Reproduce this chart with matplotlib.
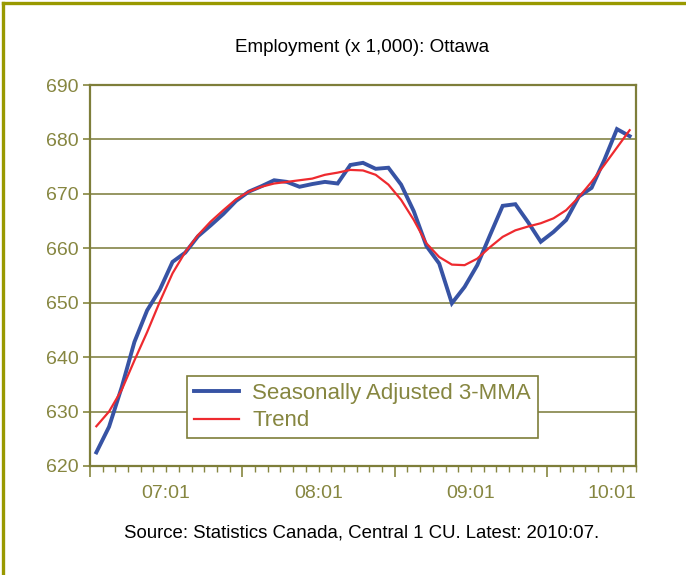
import numpy as np
import matplotlib
matplotlib.use("Agg")
import matplotlib.pyplot as plt
from matplotlib.lines import Line2D

plt.rcParams['font.family'] = ['Liberation Sans', 'DejaVu Sans']

# ---- data -------------------------------------------------------------
years = ['07', '08', '09', '10']
months_per_year = [12, 12, 12, 7]          # 2007:01 .. 2010:07
months = [f"{y}:{m:02d}" for y, n in zip(years, months_per_year) for m in range(1, n + 1)]

sa_3mma = [622.5, 627.2, 634.5, 642.8, 648.6, 652.4, 657.5, 659.2, 662.2, 664.2,
           666.3, 668.7, 670.4, 671.4, 672.5, 672.2, 671.3, 671.8, 672.2, 671.9,
           675.3, 675.7, 674.6, 674.8, 671.7, 666.8, 660.4, 657.2, 649.9, 652.9,
           656.9, 662.4, 667.8, 668.1, 664.8, 661.2, 663.0, 665.2, 669.5, 671.1,
           676.2, 681.9, 680.6]
trend = [627.3, 630.0, 634.0, 639.4, 644.6, 650.2, 655.4, 659.3, 662.4, 664.9,
         667.0, 669.0, 670.4, 671.3, 671.9, 672.2, 672.5, 672.8, 673.5, 673.9,
         674.4, 674.3, 673.5, 671.7, 668.9, 665.2, 660.9, 658.4, 657.0, 656.9,
         658.1, 660.2, 662.1, 663.3, 664.0, 664.6, 665.5, 667.0, 669.4, 672.2,
         675.3, 678.5, 681.7]
year_labels = ['07:01', '08:01', '09:01', '10:01']
y_ticks = [620, 630, 640, 650, 660, 670, 680, 690]

title = "Employment (x 1,000): Ottawa"
source = "Source: Statistics Canada, Central 1 CU. Latest: 2010:07."

# ---- style ------------------------------------------------------------
OLIVE = '#868640'
GRID = '#8E8E55'
FRAME = '#999900'
BLUE = '#3753A4'
RED = '#EE2A2F'

W, H = 686, 575
fig = plt.figure(figsize=(W / 100, H / 100), dpi=100)
fig.patch.set_facecolor('white')

# outer frame (left and top visible)
fig.add_artist(Line2D([3 / W, 3 / W], [0, 1 - 3 / H], color=FRAME, lw=2.4, transform=fig.transFigure))
fig.add_artist(Line2D([3 / W, 1], [1 - 3 / H, 1 - 3 / H], color=FRAME, lw=2.4, transform=fig.transFigure))

ax = fig.add_axes([90 / W, 1 - 466 / H, (636 - 90) / W, (466 - 85) / H])

x = np.arange(len(months))
ax.plot(x, sa_3mma, color=BLUE, lw=2.8, solid_joinstyle='miter', label='Seasonally Adjusted 3-MMA', zorder=3)
ax.plot(x, trend, color=RED, lw=1.6, label='Trend', zorder=4)

ax.set_xlim(-0.5, len(months) - 0.5)
ax.set_ylim(y_ticks[0], y_ticks[-1])

# y axis
ax.set_yticks(y_ticks)
ax.tick_params(axis='y', colors=OLIVE, labelsize=14, length=5, width=1.2, pad=3, direction='out')
for lab in ax.get_yticklabels():
    lab.set_color(OLIVE)
ax.grid(axis='y', color=GRID, lw=1.3, zorder=1)
ax.set_axisbelow(True)

# x axis: month boundary ticks, longer at year boundaries
starts = np.cumsum([0] + months_per_year[:-1])
ax.set_xticks(starts - 0.5)
ax.set_xticks(np.arange(len(months) + 1) - 0.5, minor=True)
ax.set_xticklabels([])
ax.tick_params(axis='x', which='major', colors=OLIVE, length=8, width=1.2, direction='out')
ax.tick_params(axis='x', which='minor', colors=OLIVE, length=4.5, width=1.0, direction='out')

xmax = len(months) - 0.5
for s, lbl in zip(starts, year_labels):
    pos = s + 5.5
    ha = 'center'
    if pos + 2.2 > xmax:
        pos, ha = xmax, 'right'
    ax.annotate(lbl, xy=(pos, 0), xycoords=('data', 'axes fraction'),
                xytext=(0, -19.5), textcoords='offset points',
                ha=ha, va='center', fontsize=14, color=OLIVE)

for sp in ax.spines.values():
    sp.set_color('#7E7E3A')
    sp.set_linewidth(1.6)

leg = ax.legend(loc='upper left', bbox_to_anchor=((187 - 90) / 546, (466 - 376) / 381),
                borderaxespad=0, fontsize=16, frameon=True, fancybox=False,
                edgecolor='#7E7E3A', framealpha=1, borderpad=0.32, labelspacing=0.28,
                handlelength=2.0, handletextpad=0.62)
leg.get_frame().set_linewidth(1.2)
for t in leg.get_texts():
    t.set_color(OLIVE)

fig.text(362 / W, 1 - 48 / H, title, ha='center', va='center', fontsize=13.6, color='black')
fig.text(362 / W, 1 - 533 / H, source, ha='center', va='center', fontsize=13.4, color='black')

fig.savefig('out.png', dpi=100, facecolor='white')
